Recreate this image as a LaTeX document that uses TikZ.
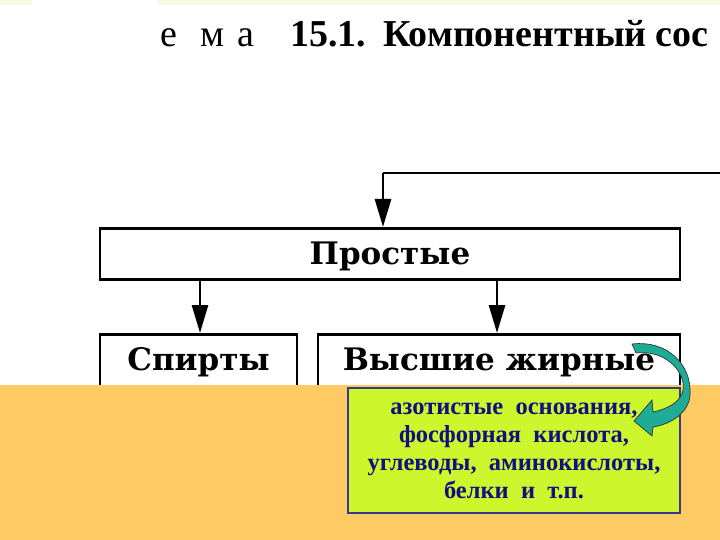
\documentclass[tikz,border=0pt]{standalone}
\usepackage{fontspec}
\setmainfont{Liberation Serif}
\newfontfamily\boxfont{DejaVu Serif}
\usetikzlibrary{arrows.meta}
\definecolor{orangebg}{RGB}{253,202,99}
\definecolor{greenbox}{RGB}{206,246,44}
\definecolor{navyline}{RGB}{58,56,138}
\definecolor{navytext}{RGB}{16,16,128}
\definecolor{tealarrow}{RGB}{30,172,150}
\definecolor{topband}{RGB}{249,249,226}
\tikzset{
  bx/.style={draw=black, line width=2.8pt, inner sep=0pt, font=\boxfont\bfseries\fontsize{31}{34}\selectfont},
  arr/.style={line width=2.8pt, -{Triangle[length=28pt,width=16pt]}},
}
\begin{document}
\begin{tikzpicture}[x=1pt,y=-1pt]
\useasboundingbox (0,0) rectangle (720,540);
\fill[white] (0,0) rectangle (720,540);
\fill[topband] (0,0) rectangle (720,5);
\fill[white] (32,0) rectangle (158,6);
% title
\node[anchor=base west, inner sep=0pt, font=\fontsize{38}{42}\selectfont] (title) at (160,47)
  {\makebox[40pt][l]{е}\makebox[37pt][l]{м}\makebox[53pt][l]{а}\makebox[93pt][l]{\bfseries 15.1.}\makebox[272pt][l]{\bfseries Компонентный}{\bfseries сос}};
% boxes
\node[bx, anchor=north, minimum width=580, minimum height=51, text height=36pt, text depth=15pt] (prostye) at (390,227) {Простые};
\node[bx, anchor=north, minimum width=197, minimum height=70, text height=36pt, text depth=34pt] (spirty) at (198.5,333) {Спирты};
\node[bx, anchor=north, minimum width=362, minimum height=70, text height=36pt, text depth=34pt] (vysshie) at (499,333) {Высшие жирные};
% connectors
\coordinate (tr) at (725,173);
\coordinate (tl) at (383,173);
\draw[line width=2.8pt] (tr) -- (tl);
\draw[arr] (tl) -- (tl |- prostye.north);
\draw[arr] (prostye.south -| 200,0) -- (200,333);
\draw[arr] (prostye.south -| 497,0) -- (497,333);
% orange panel
\fill[orangebg] (0,385) rectangle (720,540);
% green box
\node[draw=navyline, line width=2pt, fill=greenbox, minimum width=332, minimum height=125, inner sep=0pt,
      text=navytext, align=center, font=\bfseries\fontsize{24.5}{28}\selectfont] (green) at (514,450.5)
  {азотистые\ \ основания,\\фосфорная\ \ кислота,\\углеводы,\ \ аминокислоты,\\белки\ \ и\ \ т.п.};
% curved arrow
\filldraw[fill=tealarrow, draw=black!80, line width=0.7pt]
  (632,344) .. controls (668,340) and (692,365) .. (690,395)
  .. controls (689,412) and (672,424) .. (653,427)
  -- (652,436) -- (634,421) -- (652,400) -- (653,412)
  .. controls (672,408) and (686,398) .. (683,383)
  .. controls (680,365) and (660,350) .. (636,353) -- cycle;
\end{tikzpicture}
\end{document}
